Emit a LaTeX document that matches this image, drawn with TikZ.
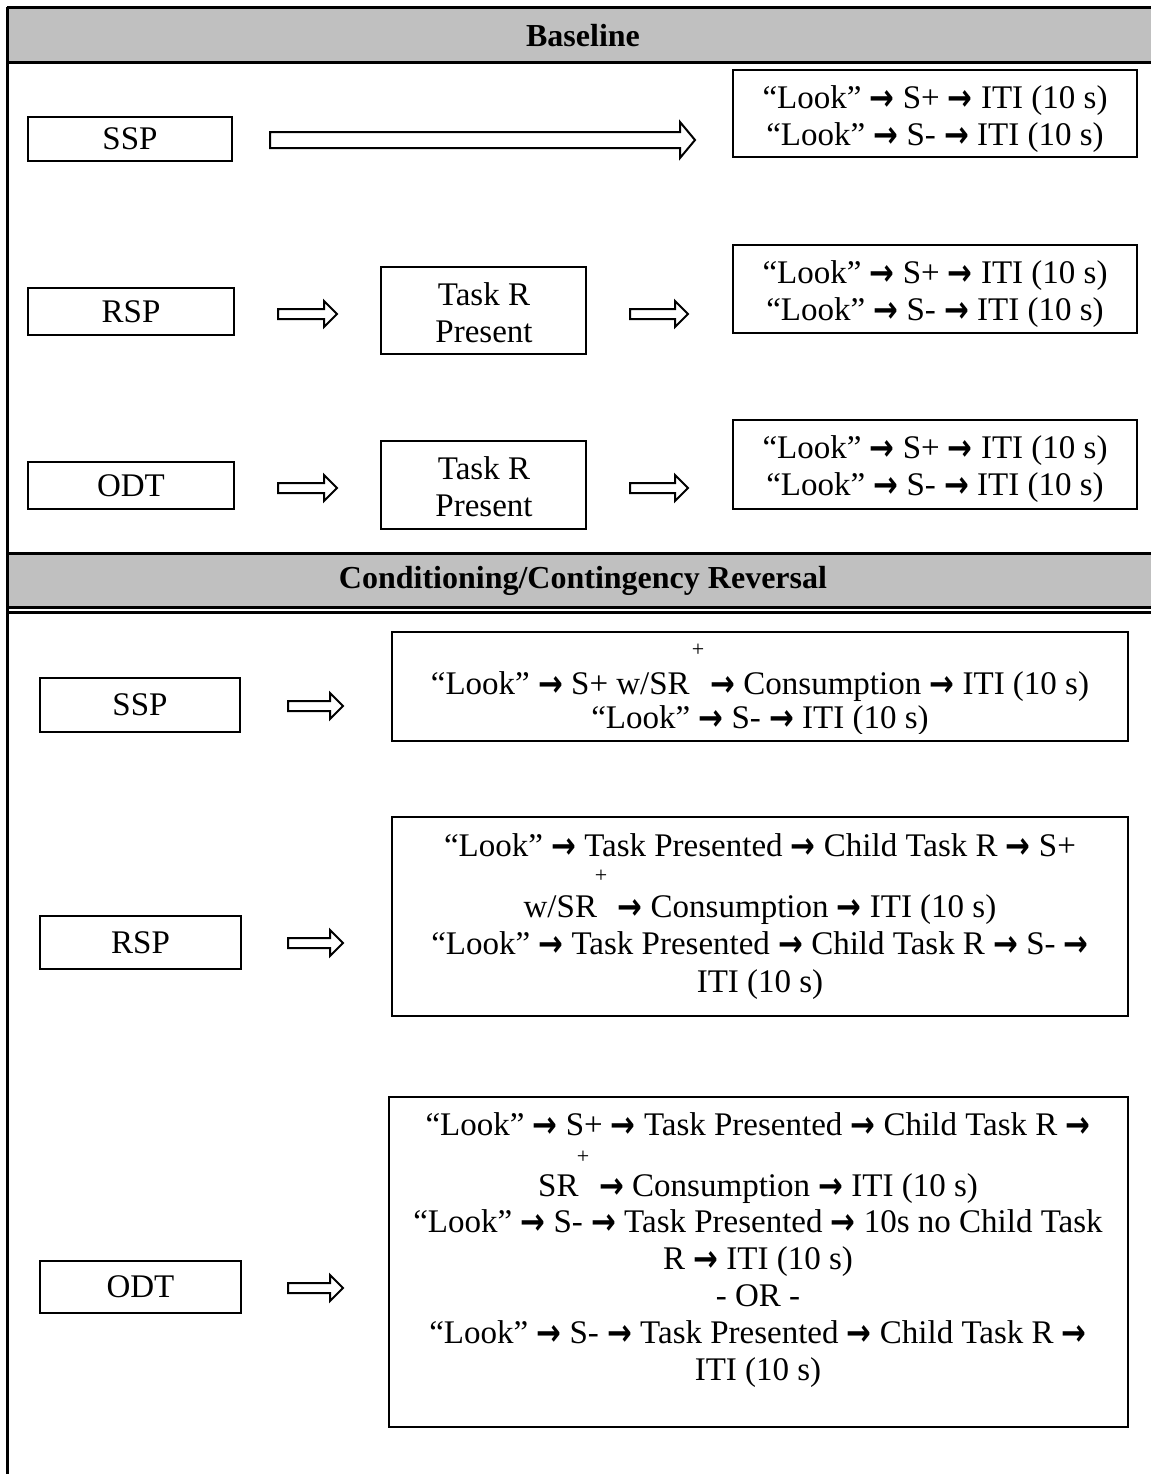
\documentclass[tikz,border=0pt]{standalone}
\usepackage{fontspec}
\usepackage{graphicx}
\setmainfont{Liberation Serif}
\newfontfamily\arrowfont{DejaVu Sans}
\usetikzlibrary{fit}
\definecolor{hdrgray}{RGB}{192,192,192}
\newcommand\rarr{\raisebox{-1pt}{\scalebox{0.8}[1]{\arrowfont\bfseries\fontsize{18.5pt}{18.5pt}\selectfont →}}}
\newcommand\supgap{\phantom{\fontsize{11pt}{11pt}\selectfont +}}
\newcommand\blockarrow[6]{% x1 x2 y h H L
  \draw[blk] (#1,#3-#4) -- (#2-#6,#3-#4) -- (#2-#6,#3-#5) -- (#2,#3)
    -- (#2-#6,#3+#5) -- (#2-#6,#3+#4) -- (#1,#3+#4) -- cycle;}
\begin{document}
\begin{tikzpicture}[x=0.5pt,y=-0.5pt,
  txt/.style={font=\fontsize{16.5pt}{18.5pt}\selectfont, inner sep=0pt, align=center},
  tline/.style={txt, anchor=base},
  supst/.style={font=\fontsize{11pt}{11pt}\selectfont, inner sep=0pt},
  hdrtxt/.style={font=\fontsize{16pt}{18.5pt}\selectfont\bfseries, inner sep=0pt},
  boxst/.style={draw, line width=1pt, inner sep=0pt},
  framest/.style={line width=1.5pt},
  blk/.style={draw, line width=1pt, fill=white, line join=miter}]

\useasboundingbox (0,0) rectangle (1151,1474);

% headers and frame
\fill[hdrgray] (7,7) rectangle (1151,62);
\fill[hdrgray] (7,553) rectangle (1151,607);
\draw[framest] (7,7) -- (1151,7);
\draw[framest] (7,62) -- (1151,62);
\draw[framest] (7,553) -- (1151,553);
\draw[framest] (7,607) -- (1151,607);
\draw[framest] (7,612) -- (1151,612);
\draw[framest] (7,7) -- (7,1474);
\node[hdrtxt] (h1) at (583,36) {Baseline};
\node[hdrtxt] (h2) at (583,581) {Conditioning/Contingency Reversal};

% ---------------- Baseline ----------------
\node[boxst, fit={(28,117) (232,161)}] (bssp) {};
\node[boxst, fit={(28,288) (234,335)}] (brsp) {};
\node[boxst, fit={(28,462) (234,509)}] (bodt) {};
\node[boxst, fit={(381,267) (586,354)}] (btask2) {};
\node[boxst, fit={(381,441) (586,529)}] (btask3) {};
\node[boxst, fit={(733,70) (1137,157)}] (bres1) {};
\node[boxst, fit={(733,245) (1137,333)}] (bres2) {};
\node[boxst, fit={(733,420) (1137,509)}] (bres3) {};

\node[txt] (tbssp) at (bssp.center) {SSP};
\node[txt] (tbrsp) at (brsp.center) {RSP};
\node[txt] (tbodt) at (bodt.center) {ODT};
\node[tline] (tbt2a) at (484,305) {Task R};
\node[tline] (tbt2b) at (484,342) {Present};
\node[tline] (tbt3a) at (484,479) {Task R};
\node[tline] (tbt3b) at (484,516) {Present};

\node[tline] (b1a) at (935,108) {“Look” \rarr{} S+ \rarr{} ITI (10 s)};
\node[tline] (b1b) at (935,145) {“Look” \rarr{} S- \rarr{} ITI (10 s)};
\node[tline] (b2a) at (935,283) {“Look” \rarr{} S+ \rarr{} ITI (10 s)};
\node[tline] (b2b) at (935,320) {“Look” \rarr{} S- \rarr{} ITI (10 s)};
\node[tline] (b3a) at (935,458) {“Look” \rarr{} S+ \rarr{} ITI (10 s)};
\node[tline] (b3b) at (935,495) {“Look” \rarr{} S- \rarr{} ITI (10 s)};

\blockarrow{270}{695}{140}{8}{18}{15}
\blockarrow{278}{337}{314}{5}{13}{13}
\blockarrow{630}{688}{314}{5}{13}{13}
\blockarrow{278}{337}{488}{5}{13}{13}
\blockarrow{630}{688}{488}{5}{13}{13}

% ---------------- Conditioning ----------------
\node[boxst, fit={(40,678) (240,732)}] (cssp) {};
\node[boxst, fit={(40,916) (241,969)}] (crsp) {};
\node[boxst, fit={(40,1261) (241,1313)}] (codt) {};
\node[boxst, fit={(392,632) (1128,741)}] (cres1) {};
\node[boxst, fit={(392,817) (1128,1016)}] (cres2) {};
\node[boxst, fit={(389,1097) (1128,1427)}] (cres3) {};

\node[txt] (tcssp) at (cssp.center) {SSP};
\node[txt] (tcrsp) at (crsp.center) {RSP};
\node[txt] (tcodt) at (codt.center) {ODT};

\blockarrow{288}{343}{706}{5}{13}{13}
\blockarrow{288}{343}{943}{5}{13}{13}
\blockarrow{288}{343}{1288}{5}{13}{13}

\node[tline] (c1a) at (760,694) {“Look” \rarr{} S+ w/SR\supgap{} \rarr{} Consumption \rarr{} ITI (10 s)};
\node[supst] (p1) at (698,650) {+};
\begin{scope}
\clip (392,640) rectangle (1128,733);
\node[tline] (c1b) at (760,728) {“Look” \rarr{} S- \rarr{} ITI (10 s)};
\end{scope}

\node[tline] (c2a) at (760,856) {“Look” \rarr{} Task Presented \rarr{} Child Task R \rarr{} S+};
\node[supst] (p2) at (601,876) {+};
\node[tline] (c2b) at (760,917) {w/SR\supgap{} \rarr{} Consumption \rarr{} ITI (10 s)};
\node[tline] (c2c) at (760,954) {“Look” \rarr{} Task Presented \rarr{} Child Task R \rarr{} S- \rarr};
\node[tline] (c2d) at (760,992) {ITI (10 s)};

\node[tline] (c3a) at (758,1135) {“Look” \rarr{} S+ \rarr{} Task Presented \rarr{} Child Task R \rarr};
\node[supst] (p3) at (583,1157) {+};
\node[tline] (c3b) at (758,1196) {SR\supgap{} \rarr{} Consumption \rarr{} ITI (10 s)};
\node[tline] (c3c) at (758,1232) {“Look” \rarr{} S- \rarr{} Task Presented \rarr{} 10s no Child Task};
\node[tline] (c3d) at (758,1269) {R \rarr{} ITI (10 s)};
\node[tline] (c3e) at (758,1306) {- OR -};
\node[tline] (c3f) at (758,1343) {“Look” \rarr{} S- \rarr{} Task Presented \rarr{} Child Task R \rarr};
\node[tline] (c3g) at (758,1380) {ITI (10 s)};
\end{tikzpicture}
\end{document}
